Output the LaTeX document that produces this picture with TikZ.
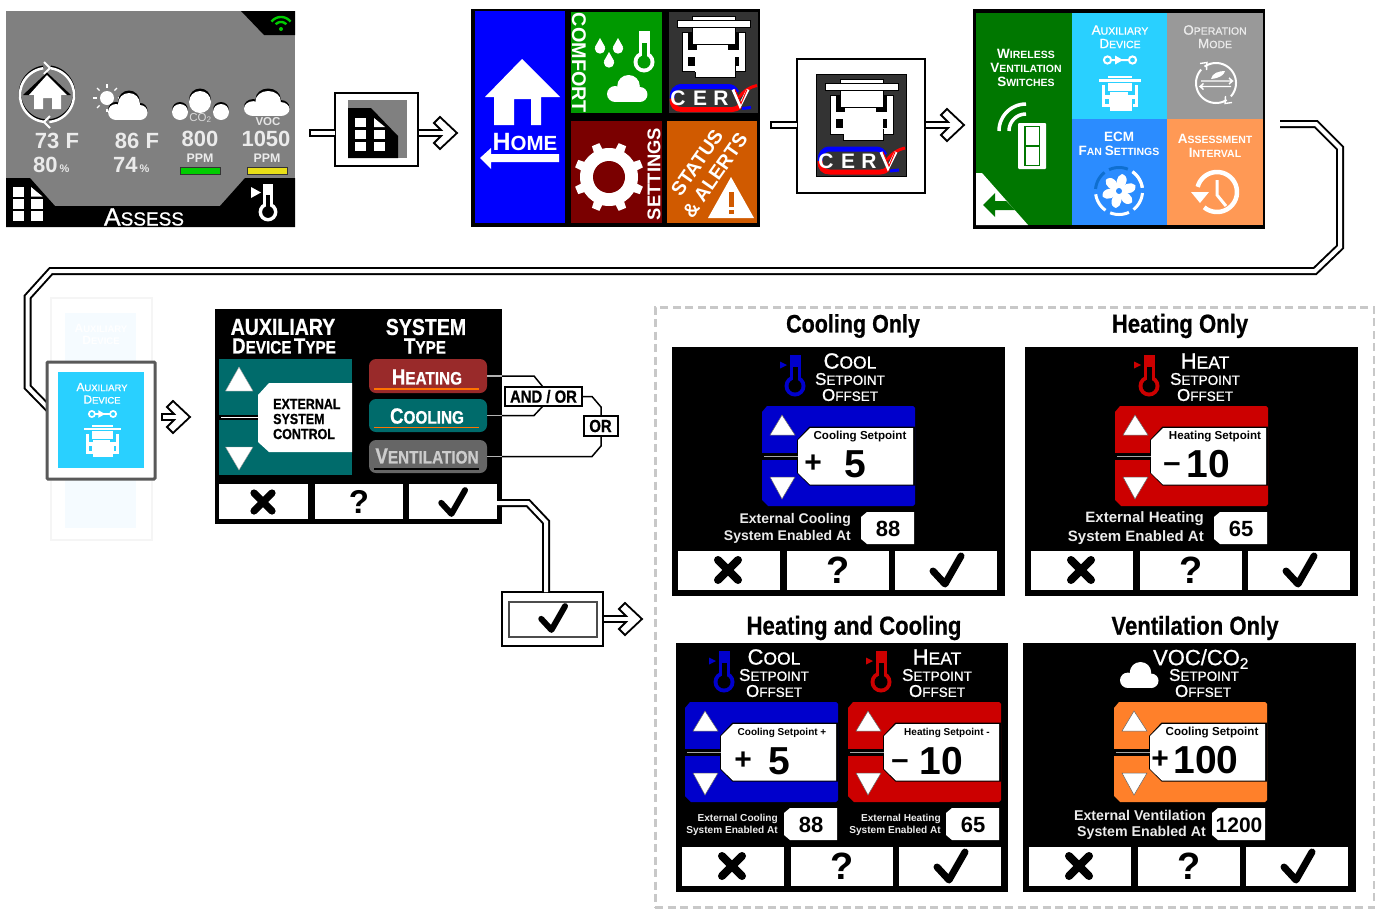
\documentclass[tikz,border=0pt]{standalone}
\usepackage{fontspec}
\setmainfont{Liberation Sans}
\newfontfamily\narh[FakeStretch=0.85,FakeBold=0.7]{Liberation Sans Bold}
\newfontfamily\semi[FakeBold=0.9]{Liberation Sans}
\definecolor{pgray}{HTML}{808080}
\definecolor{dgray}{HTML}{333333}
\definecolor{hblue}{HTML}{0000FF}
\definecolor{cgreen}{HTML}{009900}
\definecolor{maroon}{HTML}{7A0000}
\definecolor{sorange}{HTML}{D05A00}
\definecolor{wgreen}{HTML}{007700}
\definecolor{auxcyan}{HTML}{29D0FF}
\definecolor{opgray}{HTML}{999999}
\definecolor{ecmblue}{HTML}{2B8CFF}
\definecolor{ecmdark}{HTML}{0F6FD0}
\definecolor{asorange}{HTML}{FF9955}
\definecolor{teal}{HTML}{006B6B}
\definecolor{heatbtn}{HTML}{992A2A}
\definecolor{ventbtn}{HTML}{666666}
\definecolor{coolblue}{HTML}{0000CC}
\definecolor{heatred}{HTML}{CC0000}
\definecolor{ventor}{HTML}{FF802A}
\definecolor{dashg}{HTML}{C8C8C8}
\definecolor{ghostin}{HTML}{F5FBFF}
\newcount\nodeno
\newcommand\fsz[1]{\fontsize{#1}{#1}\selectfont}
\newcommand\sz[2]{\def\szA{#1}\def\szB{#2}}
\newcommand\Ca[1]{{\fontsize{\szA}{\szA}\selectfont #1}}
\newcommand\Sm[1]{{\fontsize{\szB}{\szB}\selectfont #1}}
\tikzset{
 txt/.style={/utils/exec={\global\advance\nodeno by 1},name=t\the\nodeno,inner sep=0pt,text=white},
 dbl/.style={draw=black,line width=2pt,double=white,double distance=4pt,line join=miter},
 hollow/.style={fill=white,draw=black,line width=1.8pt,line join=miter},
 thinl/.style={draw=black,line width=1.5pt,line join=miter},
 rn/.style={inner sep=0pt,outer sep=0pt},
}
\newcommand\Tx[4]{\node[txt,#1] at (#2,#3) {#4};}
\newcommand\RN[6]{\pgfmathsetmacro\rnw{#5-#3}\pgfmathsetmacro\rnh{#6-#4}\pgfmathsetmacro\rnx{(#3+#5)/2}\pgfmathsetmacro\rny{(#4+#6)/2}\node[rn,#2,minimum width=\rnw pt,minimum height=\rnh pt] (#1) at (\rnx,\rny) {};}
\newcommand\ArcP[6]{\draw[#1] plot[domain=#5:#6,samples=36,variable=\t] ({#2+#4*cos(\t)},{#3+#4*sin(\t)});}
\newcommand\Harrow[2]{\draw[hollow] (#1) ++(0,-3) -- ++(#2-16,0) -- ++(-7,-7) -- ++(6,-6) -- ++(17,16) -- ++(-17,16) -- ++(-6,-6) -- ++(7,-7) -- ++(-#2+16,0) -- cycle;}
\newcommand\Stub[2]{\draw[black,line width=8pt] (#1) -- (#1 -| #2); \draw[white,line width=4pt] ([xshift=2pt]#1) -- (#1 -| #2);}
\newcommand\Cloud[5]{\begin{scope}[shift={(#1,#2)},xscale=#3/40,yscale=#4/27]
 \fill[#5] (8,19) circle[radius=8];
 \fill[#5] (21,11) circle[radius=11];
 \fill[#5] (32,19.5) circle[radius=7.5];
 \fill[#5] (8,16) rectangle (32,27);
\end{scope}}
% bulb centre x,y; scale; colour; inner colour
\newcommand\Thermo[5]{\begin{scope}[shift={(#1,#2)},scale=#3]
 \fill[#4] (0,0) circle[radius=10.5];
 \fill[#4] (-5.5,-31) rectangle (5.5,-7);
 \fill[#5] (0,0) circle[radius=6.5];
 \fill[#5] (-2.5,-19) rectangle (2.5,-4);
\end{scope}}
\newcommand\ThermoArrow[4]{\begin{scope}[shift={(#1,#2)},scale=#3]
 \fill[#4] (-15,-24.5) -- (-8,-21) -- (-15,-17.5) -- cycle;
\end{scope}}
\newcommand\Drop[2]{\fill[white] (#1,#2) ++(0,-10) -- ++(5,9) -- ++(-10,0) -- cycle; \fill[white] (#1,#2) ++(0,0.5) circle[radius=5.2];}
\newcommand\Xic[3]{\draw[black,line width=#3*8pt,line cap=round] ({#1-10*#3},{#2-10*#3}) -- ({#1+10*#3},{#2+10*#3}) ({#1-10*#3},{#2+10*#3}) -- ({#1+10*#3},{#2-10*#3});}
\newcommand\Cic[3]{\draw[black,line width=#3*7pt,line cap=round,line join=round] ({#1-15*#3},{#2+1*#3}) -- ({#1-3*#3},{#2+14*#3}) -- ({#1+13*#3},{#2-14*#3});}
\newcommand\Btns{
 \fill[white] (6,203.5) rectangle (108,243);
 \fill[white] (115,203.5) rectangle (217,243);
 \fill[white] (223,203.5) rectangle (325,243);
 \Xic{56}{223}{1}
 \Tx{text=black,font=\bfseries\fsz{38}}{166}{223}{?}
 \Cic{276}{223}{1}
}
% spinner: local left x, colour
\newcommand\Spin[2]{\begin{scope}[shift={(#1,59)}]
 \fill[#2] (5,0) -- (151,0) -- (153,2) -- (153,98) -- (151,100) -- (6,100) -- (0,94) -- (0,6) -- cycle;
 \fill[black] (47.5,20.5) -- (153.2,20.5) -- (153.2,79.5) -- (47.5,79.5) -- (35,67) -- (35,34) -- cycle;
 \fill[black] (-0.2,46.5) -- (36,46.5) -- (36,53.5) -- (-0.2,53.5) -- cycle;
 \fill[black!35] (2,49.5) rectangle (37,50.4);
 \fill[white] (48,22) -- (151,22) -- (151,78.5) -- (48,78.5) -- (36,67) -- (36,34) -- cycle;
 \draw[fill=white,draw=black!60,line width=.5pt] (20,9) -- (8,29) -- (33,29) -- cycle (8,71) -- (33,71) -- (20,93) -- cycle;
\end{scope}}
\newcommand\ValBox[3]{\begin{scope}[shift={(#1,165)}]
 \fill[white] (6,0) -- (53,0) -- (53,32) -- (6,32) -- (0,27) -- (0,5) -- cycle;
 \Tx{text=black,font=\bfseries\fsz{#3}}{27}{17}{#2}
\end{scope}}
\newcommand\Header[3]{% x centre, first-word caps
 \sz{22}{17.5}\Tx{font=\semi}{#1}{14}{\Ca{#2}\Sm{#3}}
 \sz{17}{13.5}\Tx{font=\semi}{#1}{32}{\Ca{S}\Sm{ETPOINT}}
 \Tx{font=\semi}{#1}{48}{\Ca{O}\Sm{FFSET}}
}
\newcommand\CervUnit[5]{\begin{scope}[shift={(#1,#2)},scale=#3]
 \path[fill=white,draw=#4,line width=#3*1pt] (-32,-9) rectangle (31,30);
 \fill[#5] (-26,-9) rectangle (-22,3);
 \fill[#5] (21,-9) rectangle (25,3);
 \fill[#5] (-26,3) rectangle (-17,8);
 \fill[#5] (14,3) rectangle (25,8);
 \fill[#5] (-26,15) rectangle (-17,24);
 \fill[#5] (14,15) rectangle (25,24);
 \path[fill=white,draw=#4,line width=#3*1pt] (-19,25) rectangle (21,36);
 \fill[white] (-19,8) rectangle (21,30);
 \path[fill=white,draw=#4,line width=#3*1pt] (-22,-25) rectangle (21,3);
 \path[fill=white,draw=#4,line width=#3*1pt] (-37,-21) rectangle (36,-14);
\end{scope}}
\newcommand\CervPanel[2]{\begin{scope}[shift={(#1,#2)}]
 \path[fill=dgray,draw=black,line width=1pt] (0,0) rectangle (90,102);
 \CervUnit{46}{30}{1}{black}{black}
 \draw[blue,line width=5pt] (4,87) .. controls (4,80) and (7,75) .. (14,75) -- (60,75) .. controls (64,75) and (67,77) .. (69,81);
 \draw[red,line width=5pt] (4,87) .. controls (4,94) and (7,98) .. (14,98) -- (64,98) .. controls (67,98) and (70,97) .. (72,94);
 \draw[red,line width=3pt] (71,86) to[bend left=20] (89,74);
 \draw[blue,line width=3pt] (74,97) -- (83,96);
 \Tx{font=\bfseries\fsz{21}}{10}{87}{C}
 \Tx{font=\bfseries\fsz{21}}{32}{87}{E}
 \Tx{font=\bfseries\fsz{21}}{53}{87}{R}
 \draw[white,line width=3pt,line join=miter] (65,78) -- (72,94) -- (80,78);
 \draw[red,line width=1pt] (67,78) -- (73,92) -- (79,78);
\end{scope}}
\newcommand\Valve[3]{\begin{scope}[shift={(#1,#2)},scale=#3]
 \draw[white,line width=#3*2pt] (-12.5,0) circle[radius=3.6] (12.5,0) circle[radius=3.6] (-9,0) -- (9,0);
 \fill[white] (-5,-4.5) -- (3,0) -- (-5,4.5) -- cycle;
\end{scope}}
\newcommand\Grid[6]{%
 \fill[#6] (#1,#4) rectangle ++(#3,#5);
 \fill[#6] (#1,#4+12) rectangle ++(#3,#5);
 \fill[#6] (#1,#4+24) rectangle ++(#3,#5);
 \fill[#6] (#2,#4+12) rectangle ++(#3,#5);
 \fill[#6] (#2,#4+24) rectangle ++(#3,#5);
 \fill[#6] (#2,#4) -- ++(0,#5) -- ++(#3,0) -- cycle;
}
\begin{document}
\begin{tikzpicture}[x=1pt,y=-1pt]
\useasboundingbox (0,0) rectangle (1375,908);
\fill[white] (0,0) rectangle (1375,908);

% ===== panel 1 : assess =====
\RN{assess}{fill=pgray}{6}{11}{295}{227}
\fill[black] (241,11) -- (264,35) -- (295,35) -- (295,11) -- cycle;
\fill[black] (6,178) -- (30,178) -- (55,206) -- (220,206) -- (245,178) -- (295,178) -- (295,227) -- (6,227) -- cycle;
\Grid{12.7}{31}{11.5}{187}{9.5}{white}
\fill[green!80!black] (281,29) circle[radius=2];
\ArcP{green!80!black,line width=2.4pt}{281}{29}{7}{222}{318}
\ArcP{green!80!black,line width=2.4pt}{281}{29}{12}{218}{322}
\Thermo{268}{212}{.9}{white}{black}
\fill[white] (251,187) -- (261,192.5) -- (251,198) -- cycle;
\Tx{font=\semi}{144}{217}{\sz{25}{19}\Ca{A}\Sm{SSESS}}
% home circle
\ArcP{black,line width=2.5pt}{47}{93.5}{27}{95}{262}
\ArcP{black,line width=2.5pt}{47}{93.5}{27}{278}{445}
\ArcP{white,line width=2.5pt}{47}{95}{27}{95}{262}
\ArcP{white,line width=2.5pt}{47}{95}{27}{278}{445}
\draw[white,line width=2pt,line join=miter] (44,62) -- (50,68) -- (44,74) (50,116) -- (44,122) -- (50,128);
\fill[black] (47,72.5) -- (71,95) -- (23,95) -- cycle;
\fill[white] (47,75) -- (67,95) -- (61,95) -- (61,109) -- (52,109) -- (52,98) -- (43,98) -- (43,109) -- (34,109) -- (34,95) -- (29,95) -- cycle;
% sun + cloud
\foreach \a in {0,45,...,315}{\draw[white,line width=1.2pt] ({107+10.5*cos(\a)},{98+10.5*sin(\a)}) -- ({107+14*cos(\a)},{98+14*sin(\a)});}
\fill[white] (107,98) circle[radius=7];
\Cloud{108}{90.5}{40}{28}{black}
\Cloud{108}{93}{40}{27}{white}
% CO2
\fill[black] (180,110) circle[radius=8];
\fill[black] (221,110) circle[radius=8];
\fill[black] (200,99.5) circle[radius=11];
\fill[white] (180,112) circle[radius=8];
\fill[white] (221,112) circle[radius=8];
\fill[white] (200,102) circle[radius=11];
\Tx{font=\fsz{11.5},text=white!85!black}{200.5}{118}{CO\textsubscript{2}}
% VOC
\Cloud{244}{88.5}{46}{26}{black}
\Cloud{244}{91}{46}{25}{white}
\Tx{font=\bfseries\fsz{11.5},text=white!90!black}{268}{122}{VOC}
\Tx{font=\bfseries\fsz{22},text=white!92!black}{57}{141}{73 F}
\Tx{font=\bfseries\fsz{22},text=white!92!black,anchor=west}{33}{165}{80\fsz{11}\,\%}
\Tx{font=\bfseries\fsz{22},text=white!92!black}{137}{141}{86 F}
\Tx{font=\bfseries\fsz{22},text=white!92!black,anchor=west}{113}{165}{74\fsz{11}\,\%}
\Tx{font=\bfseries\fsz{22},text=white!92!black}{200}{139}{800}
\Tx{font=\bfseries\fsz{22},text=white!92!black}{266}{139}{1050}
\Tx{font=\bfseries\fsz{12.4},text=white!92!black}{200}{158}{PPM}
\Tx{font=\bfseries\fsz{12.4},text=white!92!black}{267}{158}{PPM}
\path[fill=green!80!black,draw=black!80,line width=1pt] (180.5,167.5) rectangle (220,174.5);
\path[fill=yellow!90!black,draw=black!80,line width=1pt] (247.5,167.5) rectangle (287,174.5);

% ===== connector 1 =====
\coordinate (s1) at (309,133);
\RN{iconA}{fill=white,draw=black,line width=1.5pt}{335}{93}{418}{166}
\Stub{s1}{iconA.west}
\Harrow{iconA.east |- s1}{39}
\fill[pgray] (348,100) rectangle (407,158);
\fill[black] (348,108) -- (371,108) -- (398,136) -- (398,158) -- (348,158) -- cycle;
\Grid{355}{374}{11}{118}{9}{white}

% ===== panel 2 : menu =====
\RN{menu}{fill=black}{471}{9}{760}{227}
\fill[hblue] (474.5,11) rectangle (565,223);
\fill[white] (522,59) -- (560,97) -- (541,97) -- (541,125) -- (531,125) -- (531,99) -- (514,99) -- (514,125) -- (494,125) -- (494,97) -- (485,97) -- cycle;
\Tx{font=\bfseries}{525}{142}{\sz{25}{20.5}\Ca{H}\Sm{OME}}
\fill[white] (480,158) -- (491,148) -- (491,154) -- (559,154) -- (559,162) -- (491,162) -- (491,169) -- cycle;
\fill[cgreen] (571,12) rectangle (662,113);
\Tx{font=\bfseries\fsz{19.8},rotate=-90}{579}{63}{COMFORT}
\Drop{600}{48}\Drop{609}{62}\Drop{618}{48}
\Thermo{644}{62}{1}{white}{cgreen}
\Cloud{607}{75}{41}{27}{white}
\CervPanel{668}{11.5}
\fill[maroon] (571,121) rectangle (662,223);
\foreach \a in {0,45,...,315}{\fill[white,rotate around={\a+22.5:(609,177)}] (602,177) -- (605,142) -- (613,142) -- (616,177) -- cycle;}
\fill[white] (609,177) circle[radius=29];
\fill[maroon] (609,177) circle[radius=16];
\Tx{font=\bfseries\fsz{18.4},rotate=90}{654}{174}{SETTINGS}
\fill[sorange] (667,121) rectangle (757,223);
\Tx{font=\bfseries\fsz{19.5},rotate=55,align=center}{706}{169}{STATUS\hspace{12pt}\\[2.5pt]\& ALERTS}
\fill[white] (731,177) -- (754,218) -- (708,218) -- cycle;
\fill[sorange] (729,192) rectangle (733.5,207);
\fill[sorange] (729,210) rectangle (733.5,214);

% ===== connector 2 =====
\coordinate (s2) at (770,125);
\RN{iconB}{fill=white,draw=black,line width=1.5pt}{797}{59}{925}{193}
\Stub{s2}{iconB.west}
\Harrow{iconB.east |- s2}{39}
\CervPanel{816}{74}

% ===== panel 3 : sub menu =====
\RN{sub}{fill=black}{973}{9}{1265}{229}
\fill[wgreen] (975.6,13) rectangle (1071.7,225);
\fill[auxcyan] (1071.7,13) rectangle (1167,119);
\fill[opgray] (1167,13) rectangle (1263,119);
\fill[ecmblue] (1071.7,119) rectangle (1167,225);
\fill[asorange] (1167,119) rectangle (1263,225);
\sz{13.5}{10.5}
\Tx{font=\bfseries}{1026}{54}{\Ca{W}\Sm{IRELESS}}
\Tx{font=\bfseries}{1026}{68}{\Ca{V}\Sm{ENTILATION}}
\Tx{font=\bfseries}{1026}{82}{\Ca{S}\Sm{WITCHES}}
\Tx{font=\semi}{1120}{30}{\Ca{A}\Sm{UXILIARY}}
\Tx{font=\semi}{1120}{43.5}{\Ca{D}\Sm{EVICE}}
\Tx{font=\semi,text=white!92!black}{1215}{30}{\Ca{O}\Sm{PERATION}}
\Tx{font=\semi,text=white!92!black}{1215}{43.5}{\Ca{M}\Sm{ODE}}
\Tx{font=\bfseries}{1119}{137}{\Ca{ECM}}
\Tx{font=\bfseries}{1119}{151}{\Ca{F}\Sm{AN} \Ca{S}\Sm{ETTINGS}}
\Tx{font=\bfseries}{1215}{139}{\Ca{A}\Sm{SSESSMENT}}
\Tx{font=\bfseries}{1215}{153}{\Ca{I}\Sm{NTERVAL}}
% switch
\ArcP{white,line width=3.5pt}{1026}{131}{27}{180}{270}
\ArcP{white,line width=3.5pt}{1026}{131}{17}{180}{270}
\fill[white,rounded corners=1pt] (1018,123) rectangle (1046,169);
\draw[wgreen,line width=1.2pt] (1025,126.5) rectangle (1039.5,165.5) (1025,146) -- (1039.5,146);
% back corner
\fill[white] (976,173) -- (982,173) -- (1028,225) -- (976,225) -- cycle;
\fill[wgreen] (983,205) -- (995,193) -- (995,201) -- (1006,201) -- (1015,210) -- (995,210) -- (995,217) -- cycle;
% aux icons
\Valve{1120}{60}{1}
\CervUnit{1120}{90}{.58}{auxcyan}{auxcyan}
% op mode
\ArcP{white,line width=2pt}{1216}{83}{20}{235}{402}
\ArcP{white,line width=2pt}{1216}{83}{20}{58}{222}
\draw[white,line width=1.4pt] (1201,81) -- (1232,81) (1229,78) -- (1232.5,81) -- (1229,84) (1200,86.5) -- (1231,86.5) (1203.5,83.5) -- (1200,86.5) -- (1203.5,89.5);
\fill[white] (1211,79) .. controls (1212,73) and (1219,71) .. (1225,71) .. controls (1224,75) and (1220,78) .. (1211,79) -- cycle;
\draw[white,line width=1.4pt] (1200,63.5) -- (1207,62.5) -- (1206.5,70);
\draw[white,line width=1.4pt] (1232,102.5) -- (1225,103.5) -- (1225.5,96);
% fan
\foreach \a in {240,300}{\ArcP{ecmdark,line width=3pt}{1119}{191}{23.5}{\a-55}{\a-8}}
\foreach \a in {0,60,120,180}{\ArcP{white,line width=3pt}{1119}{191}{23.5}{\a-55}{\a-8}}
\ArcP{white,line width=3pt}{1119}{191}{23.5}{305}{352}
\foreach \a in {0,60,...,300}{\fill[white,rotate around={\a:(1119,191)}] (1119,191) .. controls (1115,184) and (1116,176) .. (1122,174) .. controls (1129,176) and (1128,185) .. (1119,191) -- cycle;}
\fill[ecmblue] (1119,191) circle[radius=3];
% clock
\ArcP{white,line width=4.5pt}{1217}{192}{20}{195}{490}
\fill[white] (1191,192) -- (1209,192) -- (1200,203) -- cycle;
\draw[white,line width=3pt,line join=miter] (1217,180) -- (1217,195) -- (1226,206);

% ===== connector 3 =====
\RN{ghost}{draw=black!4,line width=2pt}{51}{298}{152}{540}
\fill[ghostin] (65,313) rectangle (136,528);
\Tx{font=\bfseries,text=white}{101}{328}{\sz{12}{9.5}\Ca{A}\Sm{UXILIARY}}
\Tx{font=\bfseries,text=white}{101}{340}{\sz{12}{9.5}\Ca{D}\Sm{EVICE}}
\coordinate (c3a) at (1280,124);
\coordinate (c3b) at (1316,124);
\coordinate (c3c) at (1340,148);
\coordinate (c3d) at (1340,247);
\coordinate (c3e) at (1315,271);
\coordinate (c3f) at (51,271);
\coordinate (c3g) at (27.5,297);
\coordinate (c3h) at (27.5,387);
\coordinate (c3i) at (50,410);
\draw[dbl] (c3a) -- (c3b) -- (c3c) -- (c3d) -- (c3e) -- (c3f) -- (c3g) -- (c3h) -- (c3i);
\RN{sel}{fill=white,draw=black!65,line width=3pt,rounded corners=1pt}{47}{362}{155}{479}
\fill[auxcyan] (58,372) rectangle (144,468);
\Tx{font=\semi}{102}{387}{\sz{12}{9.5}\Ca{A}\Sm{UXILIARY}}
\Tx{font=\semi}{102}{399.5}{\sz{12}{9.5}\Ca{D}\Sm{EVICE}}
\Valve{102.5}{414}{.85}
\CervUnit{102.5}{438}{.53}{auxcyan}{auxcyan}
\coordinate (s4) at (162,417);
\Harrow{s4}{28}

% ===== aux device type screen =====
\RN{auxscr}{fill=black}{215}{309}{502}{524}
\Tx{font=\narh\fsz{23}}{283}{327}{AUXILIARY}
\Tx{font=\narh}{284}{346}{\sz{22}{18}\Ca{D}\Sm{EVICE} \Ca{T}\Sm{YPE}}
\Tx{font=\narh\fsz{23}}{426}{327}{SYSTEM}
\Tx{font=\narh}{425}{346}{\sz{22}{18}\Ca{T}\Sm{YPE}}
\fill[teal] (219,359) rectangle (352,475);
\fill[black] (218.5,415) rectangle (259,420);
\fill[white] (221,416.8) rectangle (259,418.2);
\fill[white] (269,383) -- (352,383) -- (352,452) -- (269,452) -- (258,442) -- (258,395) -- cycle;
\draw[fill=white,draw=black!40,line width=.4pt] (239,367) -- (253,391) -- (225.5,391) -- cycle (225.5,447) -- (253,447) -- (239,470) -- cycle;
\Tx{font=\narh\fsz{14.7},text=black,anchor=west}{273}{404}{EXTERNAL}
\Tx{font=\narh\fsz{14.7},text=black,anchor=west}{273}{419}{SYSTEM}
\Tx{font=\narh\fsz{14.7},text=black,anchor=west}{273}{434}{CONTROL}
\RN{hbtn}{fill=heatbtn,rounded corners=7pt}{369}{359}{487}{393}
\RN{cbtn}{fill=teal,rounded corners=7pt}{369}{399}{487}{432}
\RN{vbtn}{fill=ventbtn,rounded corners=7pt}{369}{440}{487}{473}
\draw[orange!90!red,line width=1.5pt] (374,389) -- (479,389) (374,427.5) -- (479,427.5);
\draw[black,line width=1.5pt] (374,469) -- (479,469);
\Tx{font=\narh}{427}{377}{\sz{22}{18}\Ca{H}\Sm{EATING}}
\Tx{font=\narh}{427}{416}{\sz{22}{18}\Ca{C}\Sm{OOLING}}
\Tx{font=\narh,text=white!80!black}{427}{456}{\sz{22}{18}\Ca{V}\Sm{ENTILATION}}
\RN{xbtn}{fill=white}{219}{484}{308}{519}
\RN{qbtn}{fill=white}{315}{484}{403}{519}
\RN{okbtn}{fill=white}{409}{484}{497}{519}
\Xic{263}{502}{.9}
\Tx{text=black,font=\bfseries\fsz{33}}{359}{502}{?}
\Cic{454}{502}{.85}

% AND / OR logic
\RN{andor}{fill=white,draw=black,line width=2pt}{505}{387}{582}{406}
\RN{orbox}{fill=white,draw=black,line width=2pt}{584}{416}{618}{436}
\coordinate (h1) at (534,376);
\coordinate (h2) at (543,387);
\coordinate (k1) at (534,415.5);
\coordinate (k2) at (543,406);
\coordinate (r1) at (592,396.5);
\coordinate (r2) at (601,407);
\coordinate (v1) at (592,456.5);
\coordinate (v2) at (601,446);
\draw[thinl] (hbtn.east) -- (h1) -- (h2);
\draw[thinl] (cbtn.east) -- (k1) -- (k2);
\draw[thinl] (andor.east) -- (r1) -- (r2) -- (orbox.north);
\draw[thinl] (vbtn.east) -- (v1) -- (v2) -- (orbox.south);
\draw[black!30,line width=1.5pt] (hbtn.east) -- (hbtn.east -| auxscr.east) (cbtn.east) -- (cbtn.east -| auxscr.east) (vbtn.east) -- (vbtn.east -| auxscr.east);
\Tx{font=\narh\fsz{17.5},text=black}{543.5}{396.5}{AND / OR}
\Tx{font=\narh\fsz{17.5},text=black}{600.5}{426}{OR}

% ok connector
\coordinate (ok1) at (528,503);
\coordinate (ok2) at (546,522);
\RN{okbox}{fill=white,draw=black,line width=2pt}{502}{592}{603}{646}
\draw[dbl] (okbtn.east |- ok1) -- (ok1) -- (ok2) -- (ok2 |- okbox.north);
\Harrow{okbox.east}{39}
\RN{okin}{fill=white,draw=black!70,line width=2pt}{509}{602}{597}{637}
\Cic{554}{618}{.85}

% ===== dashed frame =====
\RN{frame}{draw=dashg,line width=3pt,dash pattern=on 8pt off 4.5pt}{655}{307}{1374}{907}

% titles
\Tx{font=\narh\fsz{25.3},text=black}{853}{326}{Cooling Only}
\Tx{font=\narh\fsz{26},text=black}{1180}{326}{Heating Only}
\Tx{font=\narh\fsz{26},text=black}{854}{628}{Heating and Cooling}
\Tx{font=\narh\fsz{26},text=black}{1195}{628}{Ventilation Only}

% ===== Cooling only =====
\RN{scrA}{fill=black}{672}{347}{1005}{596}
\begin{scope}[shift={(672,347)}]
\Thermo{123}{39}{1}{coolblue}{black}\ThermoArrow{123}{39}{1}{coolblue}
\Header{178}{C}{OOL}
\Spin{90}{coolblue}
\Tx{text=black,font=\bfseries\fsz{11.6}}{188}{89.5}{Cooling Setpoint}
\Tx{text=black,font=\bfseries\fsz{30}}{141}{117}{+}
\Tx{text=black,font=\bfseries\fsz{39}}{183}{117}{5}
\Tx{font=\bfseries\fsz{14},text=white!92!black,anchor=east}{179}{173}{External Cooling}
\Tx{font=\bfseries\fsz{14},text=white!92!black,anchor=east}{179}{190}{System Enabled At}
\ValBox{189}{88}{22}
\Btns
\end{scope}

% ===== Heating only =====
\RN{scrB}{fill=black}{1025}{347}{1358}{596}
\begin{scope}[shift={(1025,347)}]
\Thermo{124}{39}{1}{heatred}{black}\ThermoArrow{124}{39}{1}{heatred}
\Header{180}{H}{EAT}
\Spin{90}{heatred}
\Tx{text=black,font=\bfseries\fsz{11.6}}{190}{89.5}{Heating Setpoint}
\Tx{text=black,font=\bfseries\fsz{31}}{147}{121}{–}
\Tx{text=black,font=\bfseries\fsz{39}}{183}{117}{10}
\Tx{font=\bfseries\fsz{15},text=white!92!black,anchor=east}{179}{172}{External Heating}
\Tx{font=\bfseries\fsz{15},text=white!92!black,anchor=east}{179}{191}{System Enabled At}
\ValBox{189}{65}{22}
\Btns
\end{scope}

% ===== Heating and cooling =====
\RN{scrC}{fill=black}{676}{643}{1008}{892}
\begin{scope}[shift={(676,643)}]
\Thermo{48}{39}{1}{coolblue}{black}\ThermoArrow{48}{39}{1}{coolblue}
\Header{98}{C}{OOL}
\Thermo{205}{39}{1}{heatred}{black}\ThermoArrow{205}{39}{1}{heatred}
\Header{261}{H}{EAT}
\Spin{9}{coolblue}
\Spin{172}{heatred}
\Tx{text=black,font=\bfseries\fsz{10}}{106}{90}{Cooling Setpoint +}
\Tx{text=black,font=\bfseries\fsz{10}}{271}{90}{Heating Setpoint -}
\Tx{text=black,font=\bfseries\fsz{30}}{67}{118}{+}
\Tx{text=black,font=\bfseries\fsz{39}}{103}{118}{5}
\Tx{text=black,font=\bfseries\fsz{31}}{224}{122}{–}
\Tx{text=black,font=\bfseries\fsz{39}}{265}{118}{10}
\Tx{font=\bfseries\fsz{10.1},text=white!92!black,anchor=east}{102}{176}{External Cooling}
\Tx{font=\bfseries\fsz{10.1},text=white!92!black,anchor=east}{102}{188}{System Enabled At}
\Tx{font=\bfseries\fsz{10.1},text=white!92!black,anchor=east}{265}{176}{External Heating}
\Tx{font=\bfseries\fsz{10.1},text=white!92!black,anchor=east}{265}{188}{System Enabled At}
\ValBox{108}{88}{22}
\ValBox{270}{65}{22}
\Btns
\end{scope}

% ===== Ventilation only =====
\RN{scrD}{fill=black}{1023}{643}{1356}{892}
\begin{scope}[shift={(1023,643)}]
\Cloud{97}{19}{39}{26}{white}
\Tx{font=\semi\fsz{22}}{178}{16}{VOC/CO\textsubscript{2}}
\sz{17}{13.5}\Tx{font=\semi}{181}{32}{\Ca{S}\Sm{ETPOINT}}
\Tx{font=\semi}{180}{48}{\Ca{O}\Sm{FFSET}}
\Spin{91}{ventor}
\Tx{text=black,font=\bfseries\fsz{11.6}}{189}{89.5}{Cooling Setpoint}
\Tx{text=black,font=\bfseries\fsz{30}}{137}{117}{+}
\Tx{text=black,font=\bfseries\fsz{39}}{183}{117}{100}
\Tx{font=\bfseries\fsz{14.2},text=white!92!black,anchor=east}{183}{172}{External Ventilation}
\Tx{font=\bfseries\fsz{14.2},text=white!92!black,anchor=east}{183}{190}{System Enabled At}
\ValBox{189}{1200}{21}
\Btns
\end{scope}
\end{tikzpicture}
\end{document}
